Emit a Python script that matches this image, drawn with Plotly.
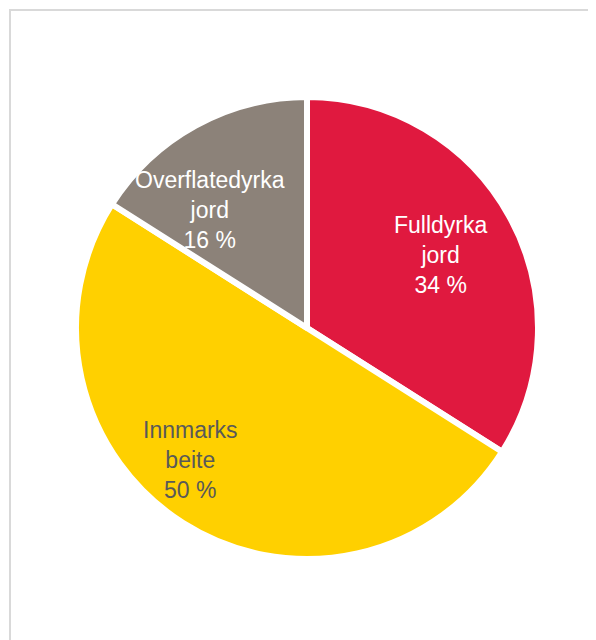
import math
import plotly.graph_objects as go

labels = ["Fulldyrka<br>jord", "Innmarks<br>beite", "Overflatedyrka<br>jord"]
values = [34, 50, 16]
colors = ["#E0193F", "#FFD000", "#8C8279"]
text_colors = ["#FFFFFF", "#595959", "#FFFFFF"]

# label placement tuning (angle offset in degrees from slice mid-angle, radius fraction)
label_angle_offset = [0.0, 9.2, -10.6]
label_radius_frac = [0.669, 0.772, 0.671]

# figure size (page body has an 8px margin)
W, H = 588, 632
cx, cy = 299, 320      # pie centre in figure px
R_vis = 228            # visible radius
stroke = 6
R = R_vis + stroke / 2

fig = go.Figure(go.Pie(
    labels=labels,
    values=values,
    sort=False,
    direction="clockwise",
    rotation=0,
    marker=dict(colors=colors, line=dict(color="white", width=stroke)),
    textinfo="none",
    hoverinfo="label+percent",
    domain=dict(x=[(cx - R) / W, (cx + R) / W], y=[1 - (cy + R) / H, 1 - (cy - R) / H]),
    showlegend=False,
))

total = sum(values)
annotations = []
cum = 0.0
for lab, v, tc, off, rf in zip(labels, values, text_colors, label_angle_offset, label_radius_frac):
    mid = (cum + v / 2) / total * 360 + off
    cum += v
    th = math.radians(mid)
    px = cx + rf * R_vis * math.sin(th)
    py = cy - rf * R_vis * math.cos(th)
    annotations.append(dict(
        x=px / W, y=1 - py / H, xref="paper", yref="paper",
        text=f"{lab}<br>{round(v / total * 100)} %",
        showarrow=False, xanchor="center", yanchor="middle", align="center",
        font=dict(family="Liberation Sans, Arial, sans-serif", size=23, color=tc),
    ))

frame = dict(color="#D9D9D9", width=2)
fig.update_layout(
    width=W, height=H,
    margin=dict(l=0, r=0, t=0, b=0),
    paper_bgcolor="white",
    plot_bgcolor="white",
    annotations=annotations,
    shapes=[
        dict(type="line", xref="paper", yref="paper",
             x0=2 / W, x1=2 / W, y0=0, y1=1 - 1 / H, line=frame),
        dict(type="line", xref="paper", yref="paper",
             x0=1 / W, x1=1, y0=1 - 2 / H, y1=1 - 2 / H, line=frame),
    ],
)

fig.write_html("out.html")
